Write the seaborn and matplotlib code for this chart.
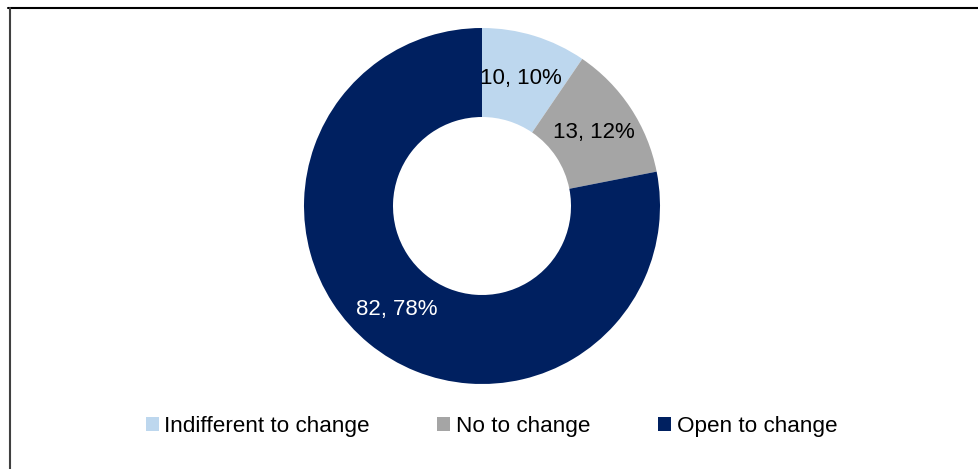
import matplotlib
matplotlib.use("Agg")
import matplotlib.pyplot as plt
from matplotlib.patches import Patch
from matplotlib.lines import Line2D
import seaborn as sns

# Survey responses on attitude to change
categories = ["Indifferent to change", "No to change", "Open to change"]
counts = [10, 13, 82]
colors = ["#BDD7EE", "#A5A5A5", "#002060"]
label_colors = ["black", "black", "white"]

sns.set_theme(style="white")
plt.rcParams["font.family"] = ["Liberation Sans", "DejaVu Sans"]
plt.rcParams["text.color"] = "black"

W, H = 979, 469
fig = plt.figure(figsize=(W / 100, H / 100), dpi=100)

# donut: centre (482, 206) px, outer radius 178 px
cx, cy, r = 482, 206, 178
ax = fig.add_axes([(cx - r) / W, (H - cy - r) / H, 2 * r / W, 2 * r / H])

total = sum(counts)
labels = [f"{c}, {round(c / total * 100)}%" for c in counts]

wedges, texts = ax.pie(
    counts,
    labels=labels,
    colors=sns.color_palette(colors),
    startangle=90,
    counterclock=False,
    radius=1.0,
    labeldistance=0.75,
    wedgeprops=dict(width=0.5, linewidth=0),
    textprops=dict(fontsize=16),
)
for t, c in zip(texts, label_colors):
    t.set_horizontalalignment("center")
    t.set_verticalalignment("center")
    t.set_color(c)
ax.set_xlim(-1, 1)
ax.set_ylim(-1, 1)
ax.set_aspect("equal")
ax.axis("off")

# outer frame: top and left edges
fig.add_artist(Line2D([8.5 / W, 1.0], [1 - 8.5 / H, 1 - 8.5 / H],
                      transform=fig.transFigure, color="black", linewidth=1.5))
fig.add_artist(Line2D([9.5 / W, 9.5 / W], [0.0, 1 - 8.5 / H],
                      transform=fig.transFigure, color="#404040", linewidth=1.5))

handles = [Patch(facecolor=c, edgecolor="none") for c in colors]
leg = fig.legend(
    handles, categories,
    loc="center", bbox_to_anchor=(491.5 / W, 1 - 426 / H),
    ncol=3, frameon=False, fontsize=16.2,
    handlelength=0.58, handleheight=0.58, handletextpad=0.25,
    columnspacing=3.0,
)
for t in leg.get_texts():
    t.set_color("black")

fig.savefig("out.png", dpi=100, facecolor="white")
